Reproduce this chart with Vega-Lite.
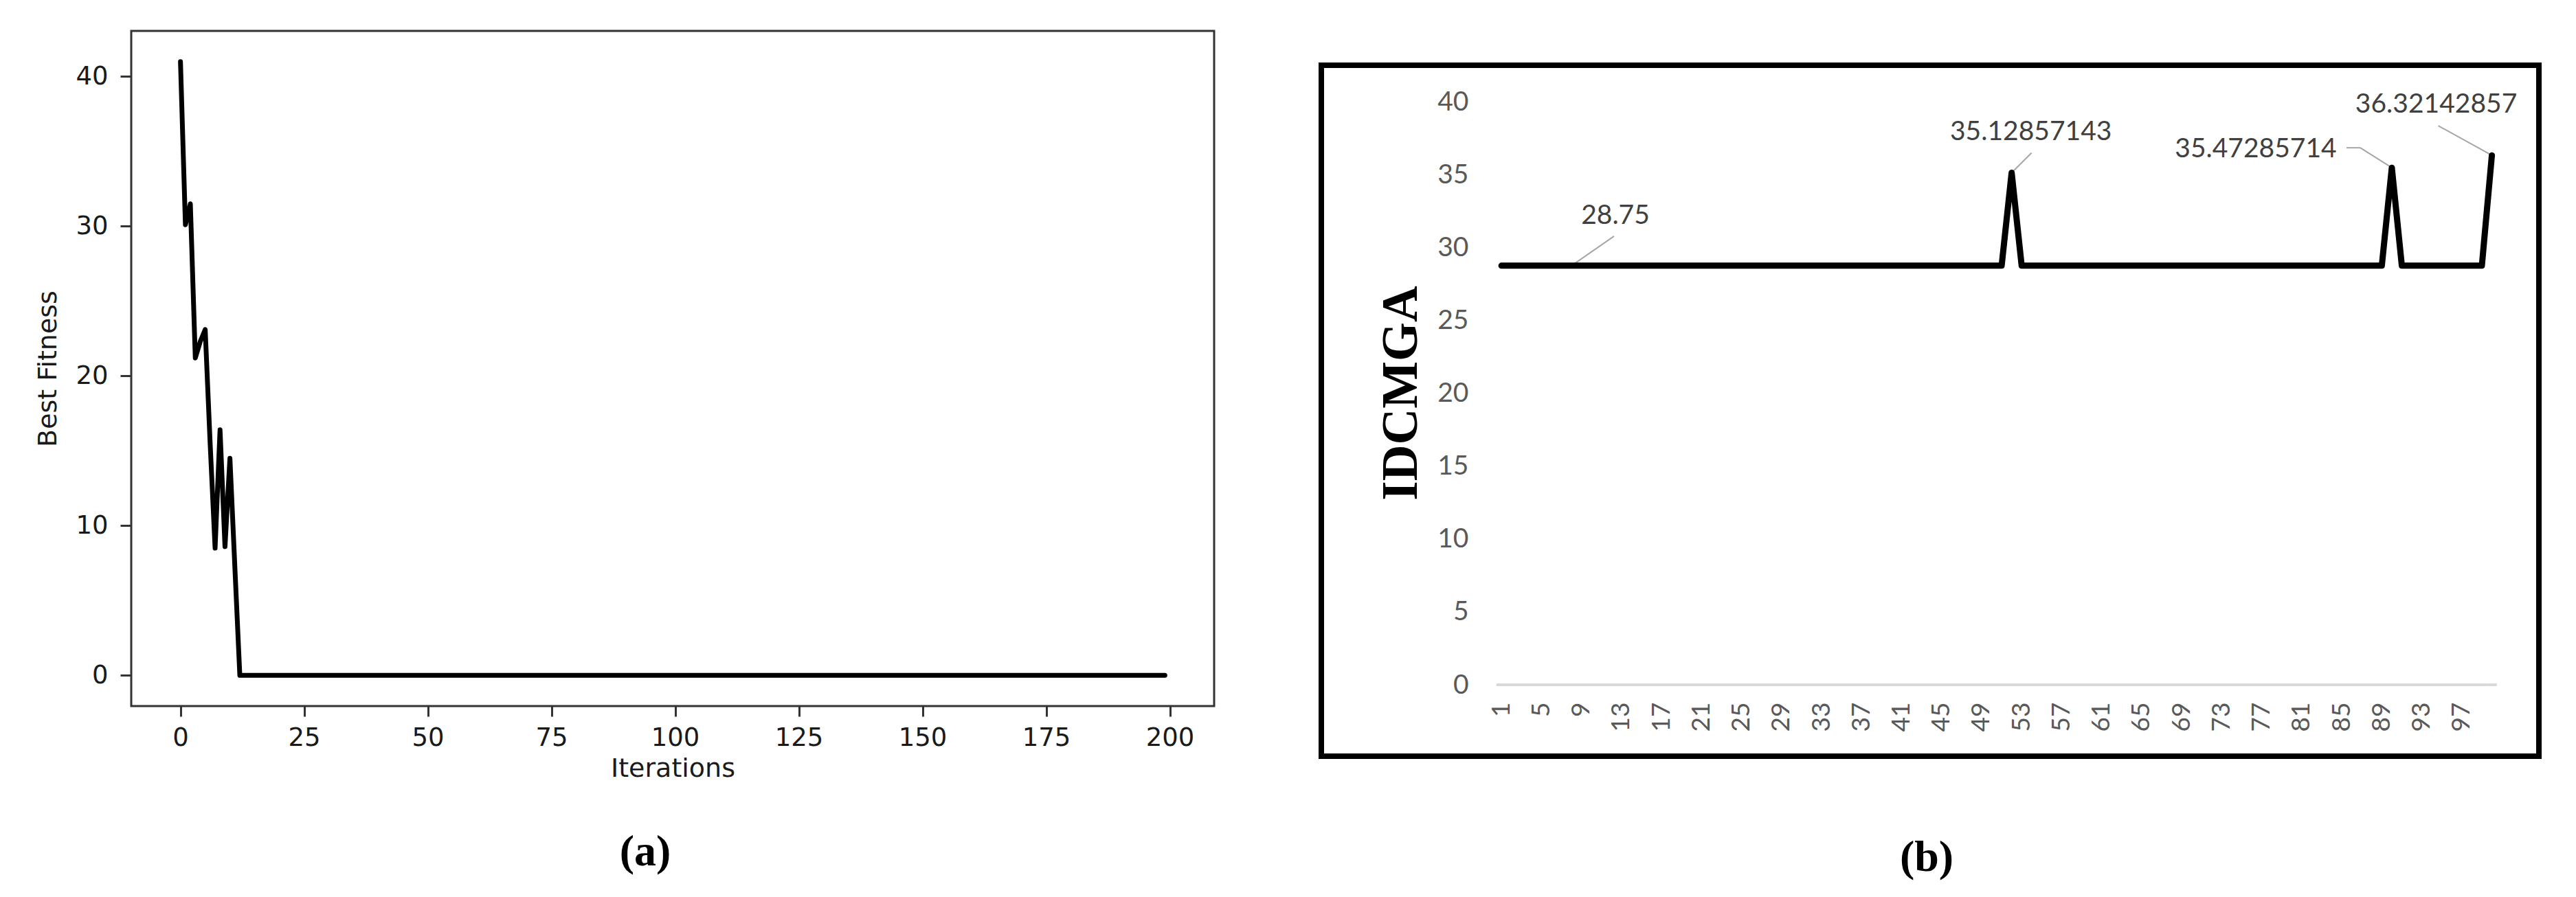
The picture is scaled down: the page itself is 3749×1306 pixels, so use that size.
{
  "$schema": "https://vega.github.io/schema/vega-lite/v6.json",
  "background": "white",
  "padding": {"left": 50, "top": 43, "right": 5, "bottom": 5},
  "config": {"view": {"stroke": null}, "axis": {"grid": false}},
  "datasets": {
    "fit": [
      {"iter":0,"best":41},{"iter":1,"best":30.1},{"iter":2,"best":31.5},{"iter":3,"best":21.2},{"iter":4,"best":22.3},{"iter":5,"best":23.1},{"iter":6,"best":15.5},{"iter":7,"best":8.5},{"iter":8,"best":16.4},{"iter":9,"best":8.6},{"iter":10,"best":14.5},{"iter":11,"best":7.2},{"iter":12,"best":0},
      {"iter":13,"best":0},{"iter":14,"best":0},{"iter":15,"best":0},{"iter":16,"best":0},{"iter":17,"best":0},{"iter":18,"best":0},{"iter":19,"best":0},{"iter":20,"best":0},
      {"iter":21,"best":0},{"iter":22,"best":0},{"iter":23,"best":0},{"iter":24,"best":0},{"iter":25,"best":0},{"iter":26,"best":0},{"iter":27,"best":0},{"iter":28,"best":0},{"iter":29,"best":0},{"iter":30,"best":0},
      {"iter":31,"best":0},{"iter":32,"best":0},{"iter":33,"best":0},{"iter":34,"best":0},{"iter":35,"best":0},{"iter":36,"best":0},{"iter":37,"best":0},{"iter":38,"best":0},{"iter":39,"best":0},{"iter":40,"best":0},
      {"iter":41,"best":0},{"iter":42,"best":0},{"iter":43,"best":0},{"iter":44,"best":0},{"iter":45,"best":0},{"iter":46,"best":0},{"iter":47,"best":0},{"iter":48,"best":0},{"iter":49,"best":0},{"iter":50,"best":0},
      {"iter":51,"best":0},{"iter":52,"best":0},{"iter":53,"best":0},{"iter":54,"best":0},{"iter":55,"best":0},{"iter":56,"best":0},{"iter":57,"best":0},{"iter":58,"best":0},{"iter":59,"best":0},{"iter":60,"best":0},
      {"iter":61,"best":0},{"iter":62,"best":0},{"iter":63,"best":0},{"iter":64,"best":0},{"iter":65,"best":0},{"iter":66,"best":0},{"iter":67,"best":0},{"iter":68,"best":0},{"iter":69,"best":0},{"iter":70,"best":0},
      {"iter":71,"best":0},{"iter":72,"best":0},{"iter":73,"best":0},{"iter":74,"best":0},{"iter":75,"best":0},{"iter":76,"best":0},{"iter":77,"best":0},{"iter":78,"best":0},{"iter":79,"best":0},{"iter":80,"best":0},
      {"iter":81,"best":0},{"iter":82,"best":0},{"iter":83,"best":0},{"iter":84,"best":0},{"iter":85,"best":0},{"iter":86,"best":0},{"iter":87,"best":0},{"iter":88,"best":0},{"iter":89,"best":0},{"iter":90,"best":0},
      {"iter":91,"best":0},{"iter":92,"best":0},{"iter":93,"best":0},{"iter":94,"best":0},{"iter":95,"best":0},{"iter":96,"best":0},{"iter":97,"best":0},{"iter":98,"best":0},{"iter":99,"best":0},{"iter":100,"best":0},
      {"iter":101,"best":0},{"iter":102,"best":0},{"iter":103,"best":0},{"iter":104,"best":0},{"iter":105,"best":0},{"iter":106,"best":0},{"iter":107,"best":0},{"iter":108,"best":0},{"iter":109,"best":0},{"iter":110,"best":0},
      {"iter":111,"best":0},{"iter":112,"best":0},{"iter":113,"best":0},{"iter":114,"best":0},{"iter":115,"best":0},{"iter":116,"best":0},{"iter":117,"best":0},{"iter":118,"best":0},{"iter":119,"best":0},{"iter":120,"best":0},
      {"iter":121,"best":0},{"iter":122,"best":0},{"iter":123,"best":0},{"iter":124,"best":0},{"iter":125,"best":0},{"iter":126,"best":0},{"iter":127,"best":0},{"iter":128,"best":0},{"iter":129,"best":0},{"iter":130,"best":0},
      {"iter":131,"best":0},{"iter":132,"best":0},{"iter":133,"best":0},{"iter":134,"best":0},{"iter":135,"best":0},{"iter":136,"best":0},{"iter":137,"best":0},{"iter":138,"best":0},{"iter":139,"best":0},{"iter":140,"best":0},
      {"iter":141,"best":0},{"iter":142,"best":0},{"iter":143,"best":0},{"iter":144,"best":0},{"iter":145,"best":0},{"iter":146,"best":0},{"iter":147,"best":0},{"iter":148,"best":0},{"iter":149,"best":0},{"iter":150,"best":0},
      {"iter":151,"best":0},{"iter":152,"best":0},{"iter":153,"best":0},{"iter":154,"best":0},{"iter":155,"best":0},{"iter":156,"best":0},{"iter":157,"best":0},{"iter":158,"best":0},{"iter":159,"best":0},{"iter":160,"best":0},
      {"iter":161,"best":0},{"iter":162,"best":0},{"iter":163,"best":0},{"iter":164,"best":0},{"iter":165,"best":0},{"iter":166,"best":0},{"iter":167,"best":0},{"iter":168,"best":0},{"iter":169,"best":0},{"iter":170,"best":0},
      {"iter":171,"best":0},{"iter":172,"best":0},{"iter":173,"best":0},{"iter":174,"best":0},{"iter":175,"best":0},{"iter":176,"best":0},{"iter":177,"best":0},{"iter":178,"best":0},{"iter":179,"best":0},{"iter":180,"best":0},
      {"iter":181,"best":0},{"iter":182,"best":0},{"iter":183,"best":0},{"iter":184,"best":0},{"iter":185,"best":0},{"iter":186,"best":0},{"iter":187,"best":0},{"iter":188,"best":0},{"iter":189,"best":0},{"iter":190,"best":0},
      {"iter":191,"best":0},{"iter":192,"best":0},{"iter":193,"best":0},{"iter":194,"best":0},{"iter":195,"best":0},{"iter":196,"best":0},{"iter":197,"best":0},{"iter":198,"best":0},{"iter":199,"best":0}
    ],
    "idc": [
      {"i":1,"v":28.75},{"i":2,"v":28.75},{"i":3,"v":28.75},{"i":4,"v":28.75},{"i":5,"v":28.75},{"i":6,"v":28.75},{"i":7,"v":28.75},{"i":8,"v":28.75},{"i":9,"v":28.75},{"i":10,"v":28.75},
      {"i":11,"v":28.75},{"i":12,"v":28.75},{"i":13,"v":28.75},{"i":14,"v":28.75},{"i":15,"v":28.75},{"i":16,"v":28.75},{"i":17,"v":28.75},{"i":18,"v":28.75},{"i":19,"v":28.75},{"i":20,"v":28.75},
      {"i":21,"v":28.75},{"i":22,"v":28.75},{"i":23,"v":28.75},{"i":24,"v":28.75},{"i":25,"v":28.75},{"i":26,"v":28.75},{"i":27,"v":28.75},{"i":28,"v":28.75},{"i":29,"v":28.75},{"i":30,"v":28.75},
      {"i":31,"v":28.75},{"i":32,"v":28.75},{"i":33,"v":28.75},{"i":34,"v":28.75},{"i":35,"v":28.75},{"i":36,"v":28.75},{"i":37,"v":28.75},{"i":38,"v":28.75},{"i":39,"v":28.75},{"i":40,"v":28.75},
      {"i":41,"v":28.75},{"i":42,"v":28.75},{"i":43,"v":28.75},{"i":44,"v":28.75},{"i":45,"v":28.75},{"i":46,"v":28.75},{"i":47,"v":28.75},{"i":48,"v":28.75},{"i":49,"v":28.75},{"i":50,"v":28.75},
      {"i":51,"v":28.75},{"i":52,"v":35.12857143},{"i":53,"v":28.75},{"i":54,"v":28.75},{"i":55,"v":28.75},{"i":56,"v":28.75},{"i":57,"v":28.75},{"i":58,"v":28.75},{"i":59,"v":28.75},{"i":60,"v":28.75},
      {"i":61,"v":28.75},{"i":62,"v":28.75},{"i":63,"v":28.75},{"i":64,"v":28.75},{"i":65,"v":28.75},{"i":66,"v":28.75},{"i":67,"v":28.75},{"i":68,"v":28.75},{"i":69,"v":28.75},{"i":70,"v":28.75},
      {"i":71,"v":28.75},{"i":72,"v":28.75},{"i":73,"v":28.75},{"i":74,"v":28.75},{"i":75,"v":28.75},{"i":76,"v":28.75},{"i":77,"v":28.75},{"i":78,"v":28.75},{"i":79,"v":28.75},{"i":80,"v":28.75},
      {"i":81,"v":28.75},{"i":82,"v":28.75},{"i":83,"v":28.75},{"i":84,"v":28.75},{"i":85,"v":28.75},{"i":86,"v":28.75},{"i":87,"v":28.75},{"i":88,"v":28.75},{"i":89,"v":28.75},{"i":90,"v":35.47285714},
      {"i":91,"v":28.75},{"i":92,"v":28.75},{"i":93,"v":28.75},{"i":94,"v":28.75},{"i":95,"v":28.75},{"i":96,"v":28.75},{"i":97,"v":28.75},{"i":98,"v":28.75},{"i":99,"v":28.75},{"i":100,"v":36.32142857}
    ]
  },
  "spacing": 150,
  "hconcat": [
    {
      "width": 1576,
      "height": 983,
      "view": {"stroke": "#333333", "strokeWidth": 3},
      "title": {"text": "(a)", "orient": "bottom", "anchor": "middle", "font": "Liberation Serif", "fontSize": 64, "fontWeight": "bold", "color": "black", "offset": 71, "dx": -40},
      "data": {"name": "fit"},
      "mark": {"type": "line", "color": "black", "strokeWidth": 7, "strokeJoin": "round", "strokeCap": "round"},
      "encoding": {
        "x": {
          "field": "iter", "type": "quantitative",
          "scale": {"domain": [-9.95, 208.95], "nice": false, "zero": false},
          "axis": {"values": [0, 25, 50, 75, 100, 125, 150, 175, 200], "domain": false, "grid": false, "tickSize": 15, "tickWidth": 3, "tickColor": "#333333", "labelFont": "DejaVu Sans", "labelFontSize": 37, "labelColor": "#1a1a1a", "labelPadding": 13, "labelFlush": false, "labelOverlap": false, "title": "Iterations", "titleFont": "DejaVu Sans", "titleFontSize": 38, "titleFontWeight": "normal", "titleColor": "#1a1a1a", "titlePadding": 8}
        },
        "y": {
          "field": "best", "type": "quantitative",
          "scale": {"domain": [-2.05, 43.05], "nice": false, "zero": false},
          "axis": {"values": [0, 10, 20, 30, 40], "domain": false, "grid": false, "tickSize": 16, "tickWidth": 3, "tickColor": "#333333", "labelFont": "DejaVu Sans", "labelFontSize": 37, "labelColor": "#1a1a1a", "labelPadding": 18, "labelFlush": false, "labelOverlap": false, "title": "Best Fitness", "titleFont": "DejaVu Sans", "titleFontSize": 38, "titleFontWeight": "normal", "titleColor": "#1a1a1a", "titlePadding": 20}
        }
      }
    },
    {
      "spacing": 45,
      "vconcat": [
        {"data": {"values": []}, "mark": "point", "width": 1, "height": 1},
        {
          "width": 1772,
          "height": 1006,
          "view": {"stroke": "black", "strokeWidth": 8},
          "title": {"text": "(b)", "orient": "bottom", "anchor": "middle", "font": "Liberation Serif", "fontSize": 64, "fontWeight": "bold", "color": "black", "offset": 116, "dx": -5},
          "data": {"name": "idc"},
          "encoding": {
            "x": {
              "field": "i", "type": "quantitative",
              "scale": {"domain": [-17, 104.7], "nice": false, "zero": false},
              "axis": {"values": [1, 5, 9, 13, 17, 21, 25, 29, 33, 37, 41, 45, 49, 53, 57, 61, 65, 69, 73, 77, 81, 85, 89, 93, 97], "offset": -79, "domain": false, "ticks": false, "tickSize": 0, "grid": false, "labelAngle": 270, "labelAlign": "right", "labelBaseline": "middle", "labelPadding": 0, "labelFont": "Lato", "labelFontSize": 37, "labelColor": "#595959", "labelOverlap": false, "labelFlush": false, "title": null}
            },
            "y": {
              "field": "v", "type": "quantitative",
              "scale": {"domain": [-4.9, 42.5], "nice": false, "zero": false},
              "axis": {"values": [0, 5, 10, 15, 20, 25, 30, 35, 40], "offset": -214, "domain": false, "ticks": false, "tickSize": 0, "grid": false, "labelPadding": 0, "labelFont": "Lato", "labelFontSize": 39, "labelColor": "#595959", "labelOverlap": false, "labelFlush": false, "title": "IDCMGA", "titleFont": "Liberation Serif", "titleFontSize": 73, "titleFontWeight": "bold", "titleColor": "black", "titleX": -76, "titleY": 477, "titleBaseline": "alphabetic", "titleAngle": 270, "titleAlign": "center"}
            }
          },
          "layer": [
            {
              "mark": {"type": "rule", "color": "#d9d9d9", "strokeWidth": 4, "xOffset": -7.3, "x2Offset": 7.3},
              "encoding": {
                "x": {"aggregate": "min", "field": "i", "type": "quantitative"},
                "x2": {"aggregate": "max", "field": "i"},
                "y": {"datum": 0}
              }
            },
            {
              "transform": [{"filter": "datum.i == 8"}],
              "mark": {"type": "rule", "color": "#a6a6a6", "strokeWidth": 2, "x2Offset": 62, "y2Offset": -43},
              "encoding": {"x2": {"field": "i"}, "y2": {"field": "v"}}
            },
            {
              "transform": [{"filter": "datum.i == 52"}],
              "mark": {"type": "rule", "color": "#a6a6a6", "strokeWidth": 2, "x2Offset": 29, "y2Offset": -29},
              "encoding": {"x2": {"field": "i"}, "y2": {"field": "v"}}
            },
            {
              "transform": [{"filter": "datum.i == 90"}],
              "mark": {"type": "rule", "color": "#a6a6a6", "strokeWidth": 2, "x2Offset": -46, "y2Offset": -29},
              "encoding": {"x2": {"field": "i"}, "y2": {"field": "v"}}
            },
            {
              "transform": [{"filter": "datum.i == 90"}],
              "mark": {"type": "rule", "color": "#a6a6a6", "strokeWidth": 2, "xOffset": -46, "yOffset": -29, "x2Offset": -66, "y2Offset": -29},
              "encoding": {"x2": {"field": "i"}, "y2": {"field": "v"}}
            },
            {
              "transform": [{"filter": "datum.i == 100"}],
              "mark": {"type": "rule", "color": "#a6a6a6", "strokeWidth": 2, "x2Offset": -78, "y2Offset": -43},
              "encoding": {"x2": {"field": "i"}, "y2": {"field": "v"}}
            },
            {
              "mark": {"type": "line", "color": "black", "strokeWidth": 9, "strokeJoin": "round", "strokeCap": "round"}
            },
            {
              "transform": [{"filter": "datum.i == 8"}],
              "mark": {"type": "text", "dx": 64, "dy": -73, "font": "Lato", "fontSize": 39, "color": "#404040", "align": "center", "baseline": "middle"},
              "encoding": {"text": {"field": "v", "type": "quantitative", "format": ".10~r"}}
            },
            {
              "transform": [{"filter": "datum.i == 52"}],
              "mark": {"type": "text", "dx": 28, "dy": -59, "font": "Lato", "fontSize": 39, "color": "#404040", "align": "center", "baseline": "middle"},
              "encoding": {"text": {"field": "v", "type": "quantitative", "format": ".10~r"}}
            },
            {
              "transform": [{"filter": "datum.i == 90"}],
              "mark": {"type": "text", "dx": -198, "dy": -27, "font": "Lato", "fontSize": 39, "color": "#404040", "align": "center", "baseline": "middle"},
              "encoding": {"text": {"field": "v", "type": "quantitative", "format": ".10~r"}}
            },
            {
              "transform": [{"filter": "datum.i == 100"}],
              "mark": {"type": "text", "dx": -81, "dy": -74, "font": "Lato", "fontSize": 39, "color": "#404040", "align": "center", "baseline": "middle"},
              "encoding": {"text": {"field": "v", "type": "quantitative", "format": ".10~r"}}
            }
          ]
        }
      ]
    }
  ]
}
